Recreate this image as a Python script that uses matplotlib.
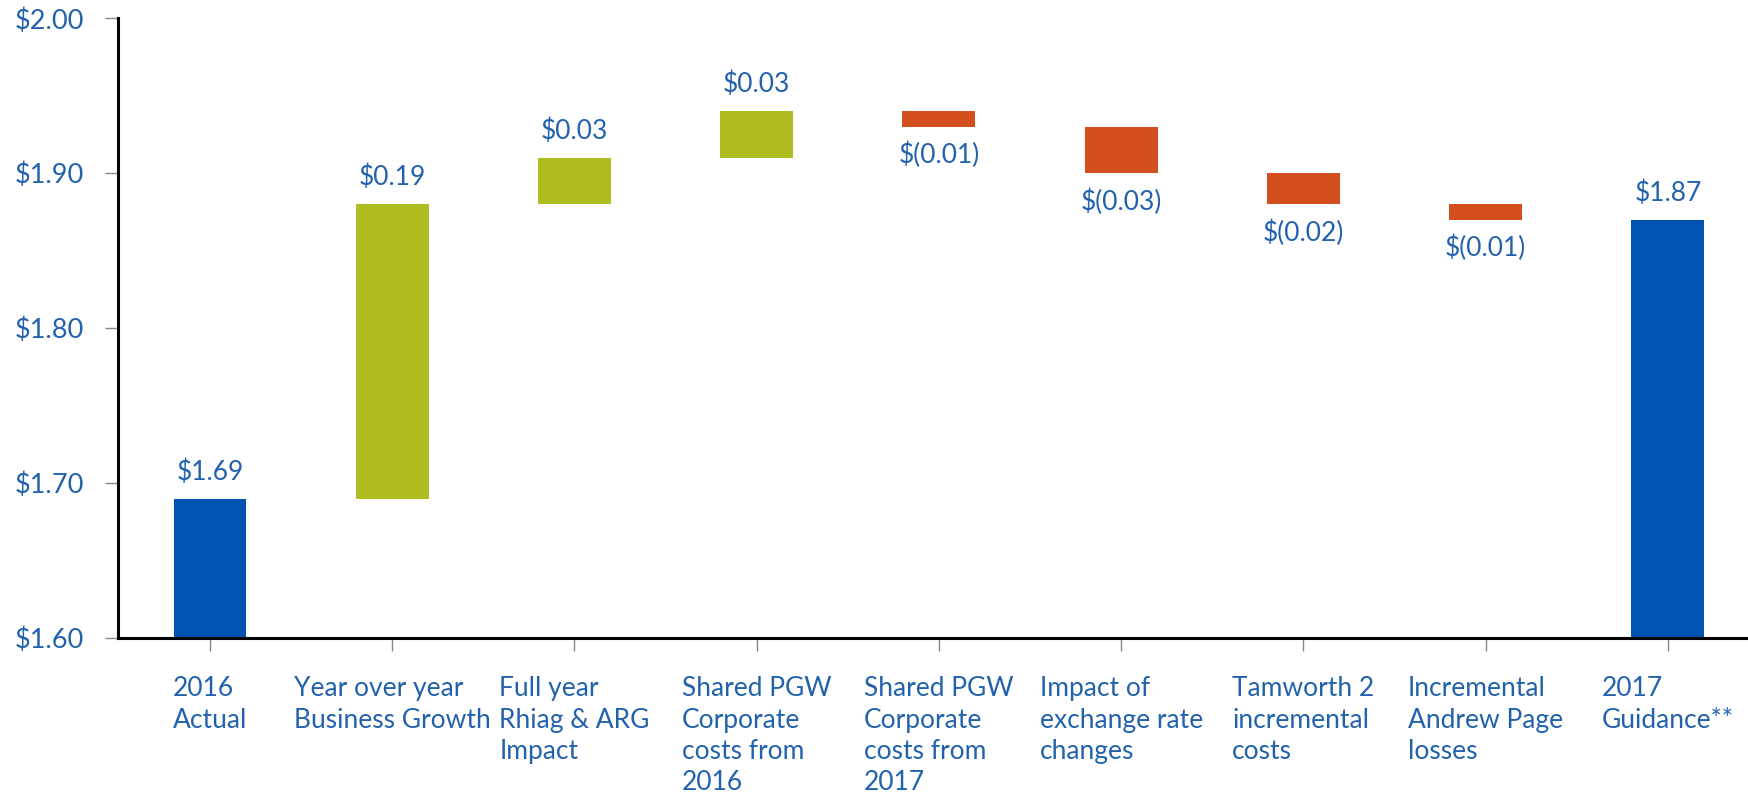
import matplotlib.pyplot as plt
import numpy as np

plt.rcParams['font.family'] = ['Lato', 'DejaVu Sans']

# waterfall data
categories = ['2016\nActual', 'Year over year\nBusiness Growth', 'Full year\nRhiag & ARG\nImpact',
              'Shared PGW\nCorporate\ncosts from\n2016', 'Shared PGW\nCorporate\ncosts from\n2017',
              'Impact of\nexchange rate\nchanges', 'Tamworth 2\nincremental\ncosts',
              'Incremental\nAndrew Page\nlosses', '2017\nGuidance**']
changes = [1.69, 0.19, 0.03, 0.03, -0.01, -0.03, -0.02, -0.01, 1.87]
kinds = ['total', 'up', 'up', 'up', 'down', 'down', 'down', 'down', 'total']
value_labels = ['$1.69', '$0.19', '$0.03', '$0.03', '$(0.01)', '$(0.03)', '$(0.02)', '$(0.01)', '$1.87']
yticks = [1.60, 1.70, 1.80, 1.90, 2.00]

BLUE = '#0153b1'
GREEN = '#afbb1f'
RED = '#d44f1e'
TXT = '#2262ad'
colors = {'total': BLUE, 'up': GREEN, 'down': RED}

# bottoms / heights of each floating bar
bottoms = []
heights = []
running = 0.0
for c, k in zip(changes, kinds):
    if k == 'total':
        bottoms.append(1.60)
        heights.append(c - 1.60)
        running = c
    else:
        if c >= 0:
            bottoms.append(running)
        else:
            bottoms.append(running + c)
        heights.append(abs(c))
        running += c

x = np.arange(len(categories))

fig = plt.figure(figsize=(17.48, 7.95), dpi=100)
ax = fig.add_axes([0.0675, 0.1975, 0.9325, 0.7795])

ax.bar(x, heights, bottom=bottoms, width=0.4, color=[colors[k] for k in kinds])

for i in range(len(x)):
    if kinds[i] == 'down':
        ax.annotate(value_labels[i], (x[i], bottoms[i]), xytext=(0, -11), textcoords='offset points',
                    ha='center', va='top', color=TXT, fontsize=19)
    else:
        ax.annotate(value_labels[i], (x[i], bottoms[i] + heights[i]), xytext=(0, 10),
                    textcoords='offset points', ha='center', va='bottom', color=TXT, fontsize=19)

ax.set_ylim(1.60, 2.00)
ax.set_xlim(-0.505, 8.44)
ax.set_yticks(yticks)
ax.set_yticklabels(['$%.2f' % v for v in yticks], fontsize=19.5)
ax.set_xticks(x)
ax.set_xticklabels(categories, ha='center', multialignment='left', linespacing=1.32, fontsize=19)

ax.spines['top'].set_visible(False)
ax.spines['right'].set_visible(False)
ax.spines['left'].set_linewidth(2.2)
ax.spines['bottom'].set_linewidth(2.2)
ax.tick_params(axis='both', direction='out', length=9.5, width=1, color='#888888',
               labelcolor=TXT)
ax.tick_params(axis='y', pad=15)
ax.tick_params(axis='x', pad=18)

fig.savefig('out.png', dpi=100)
